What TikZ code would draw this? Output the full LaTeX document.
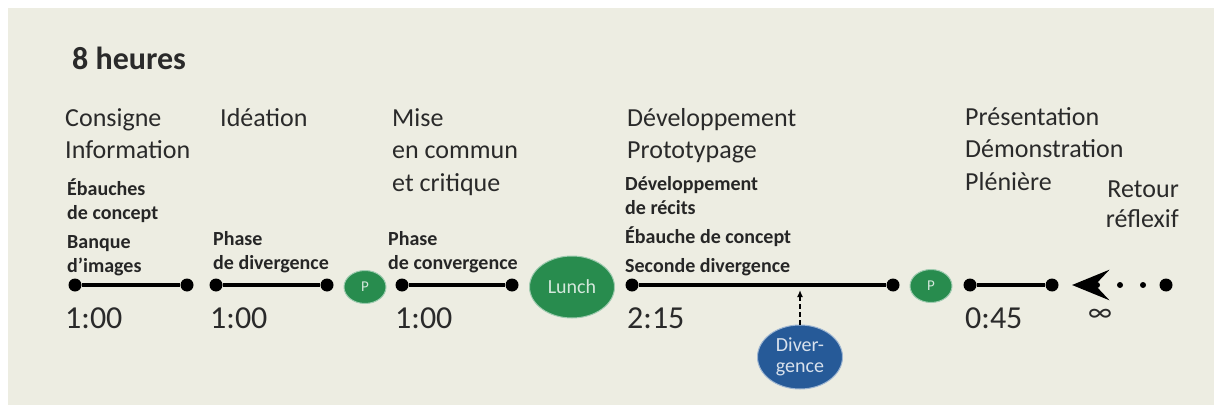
\documentclass[tikz,border=0pt]{standalone}
\usepackage{fontspec}
\setmainfont{Carlito}
\definecolor{panel}{RGB}{237,237,226}
\definecolor{inkgray}{RGB}{42,42,42}
\definecolor{pausegreen}{RGB}{40,140,78}
\definecolor{divblue}{RGB}{38,90,152}
\usetikzlibrary{arrows.meta, positioning, shapes.geometric}
\tikzset{
	heading/.style={anchor=base west, inner sep=0pt, text=inkgray, font=\bfseries\fontsize{32}{36}\selectfont},
	phase/.style={anchor=base west, inner sep=0pt, align=left, text=inkgray, font=\fontsize{26}{32.5}\selectfont},
	task/.style={anchor=base west, inner sep=0pt, align=left, text=black!85, font=\bfseries\fontsize{20}{23.5}\selectfont},
	duration/.style={anchor=base west, inner sep=0pt, text=inkgray, font=\fontsize{32}{36}\selectfont},
	tick/.style={circle, fill=black, inner sep=0pt, minimum size=13pt},
	bar/.style={line width=4pt, draw=black},
	pause/.style={ellipse, fill=pausegreen, draw=white!55!pausegreen, line width=1pt, inner sep=0pt, minimum width=42pt, minimum height=33pt, text=white!80!pausegreen, font=\fontsize{15}{18}\selectfont},
	diverge/.style={ellipse, fill=divblue, draw=white!55!divblue, line width=1pt, inner sep=0pt, minimum width=85pt, minimum height=64pt, align=center, text=white!82!divblue, font=\fontsize{20}{21}\selectfont},
	hintarrow/.style={-{Latex[length=7pt, width=6pt]}, line width=1.6pt, dash pattern=on 5pt off 3pt, draw=black},
	returnarrow/.style={-{Stealth[length=37pt, width=30pt, inset=14pt]}, line width=6pt, line cap=round, dash pattern=on 0pt off 23pt, draw=black},
}
\begin{document}
\begin{tikzpicture}[x=1pt, y=1pt]
	\fill[panel] (8,-8) rectangle (1214,-405);
	\useasboundingbox (0,0) rectangle (1214,-409);
	\node[heading] (heures) at (72,-70) {8 heures};
	% phase titles (base = last line)
	\node[phase] (consigne) at (65,-158.5) {Consigne\\Information};
	\node[phase] (ideation) at (220,-126) {Idéation};
	\node[phase] (mise) at (392,-191) {Mise\\en commun\\et critique};
	\node[phase] (devel) at (627,-158.5) {Développement\\Prototypage};
	\node[phase] (present) at (965,-190) {Présentation\\Démonstration\\Plénière};
	\node[phase, anchor=base east, align=right] (retour) at (1179,-227) {Retour\\[-3pt]réflexif};
	% tasks
	\node[task] (ebauches) at (67,-272) {Ébauches\\de concept\\[6pt]Banque\\d’images};
	\node[task] (divphase) at (213,-269) {Phase\\de divergence};
	\node[task] (convphase) at (388,-269) {Phase\\de convergence};
	\node[task] (recits) at (625,-272) {Développement\\de récits\\[6pt]Ébauche de concept\\[5pt]Seconde divergence};
	% timeline
	\node[tick] (s1a) at (75,-285) {};
	\node[tick] (s1b) at (187,-285) {};
	\node[tick] (s2a) at (216,-285) {};
	\node[tick] (s2b) at (327,-285) {};
	\node[pause] (pause1) at (365,-287) {P};
	\node[tick] (s3a) at (402,-285) {};
	\node[tick] (s3b) at (512,-285) {};
	\node[pause, minimum width=85pt, minimum height=62pt, font=\fontsize{20}{22}\selectfont] (lunch) at (572,-287) {Lunch};
	\node[tick] (s4a) at (632,-285) {};
	\node[tick] (s4b) at (893,-285) {};
	\node[pause] (pause2) at (931,-286) {P};
	\node[tick] (s5a) at (970,-285) {};
	\node[tick] (s5b) at (1052,-285) {};
	\node[tick] (far) at (1166,-285) {};
	\coordinate (backtip) at (1072,-285);
	\draw[bar] (s1a) -- (s1b);
	\draw[bar] (s2a) -- (s2b);
	\draw[bar] (s3a) -- (s3b);
	\draw[bar] (s4a) -- (s4b);
	\draw[bar] (s5a) -- (s5b);
	\draw[returnarrow] (far.center) -- (backtip);
	% durations
	\node[duration] (d1) at (65,-328) {1:00};
	\node[duration] (d2) at (210,-328) {1:00};
	\node[duration] (d3) at (395,-328) {1:00};
	\node[duration] (d4) at (627,-328) {2:15};
	\node[duration] (d5) at (965,-328) {0:45};
	\node[text=inkgray, font=\fontsize{28}{30}\selectfont, inner sep=0pt] (infty) at (1100,-315) {∞};
	% divergence
	\node[diverge] (diverg) at (800,-357) {Diver-\\gence};
	\coordinate (hit) at (800,-290);
	\draw[hintarrow] (diverg) -- (hit);
\end{tikzpicture}
\end{document}
